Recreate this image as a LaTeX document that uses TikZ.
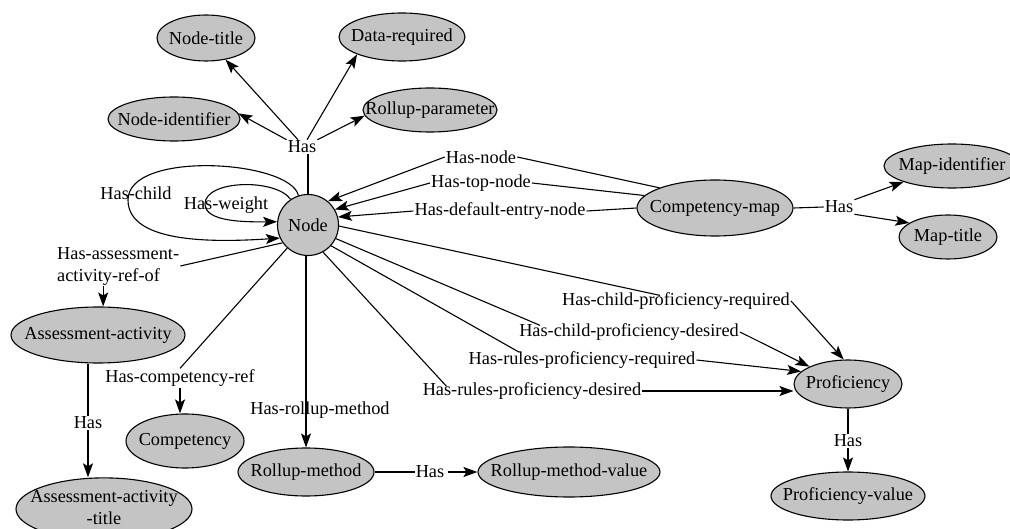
\documentclass[tikz,border=0pt]{standalone}
\usepackage{fontspec}
\setmainfont{Liberation Serif}
\usetikzlibrary{shapes.geometric,arrows.meta}
\definecolor{entfill}{RGB}{196,196,196}
\begin{document}
\begin{tikzpicture}[x=1pt,y=-1pt,
  font=\fontsize{18.3}{21}\selectfont,
  ent/.style={ellipse,draw,line width=1.1pt,fill=entfill,inner sep=0pt},
  lbl/.style={inner sep=1pt},
  link/.style={line width=1.1pt},
  arr/.style={link,-{Stealth[length=14pt,width=10pt,inset=3pt]}},
]
\useasboundingbox (0,0) rectangle (1010,529);

% ---------- entities ----------
\node[ent,circle,minimum size=61pt] (N) at (308,225) {\makebox[0pt]{Node}};
\node[ent,minimum width=98pt,minimum height=46pt]  (ntitle) at (206,38)  {\makebox[0pt]{Node-title}};
\node[ent,minimum width=126pt,minimum height=48pt] (dreq)   at (402,37)  {\makebox[0pt]{Data-required}};
\node[ent,minimum width=132pt,minimum height=44pt] (nid)    at (174,119) {\makebox[0pt]{Node-identifier}};
\node[ent,minimum width=134pt,minimum height=44pt] (rpar)   at (430,110) {\makebox[0pt]{Rollup-parameter}};
\node[ent,minimum width=156pt,minimum height=56pt] (cmap)   at (715,208) {\makebox[0pt]{Competency-map}};
\node[ent,minimum width=136pt,minimum height=44pt] (mid)    at (952,166) {\makebox[0pt]{Map-identifier}};
\node[ent,minimum width=98pt,minimum height=44pt]  (mtitle) at (948,237) {\makebox[0pt]{Map-title}};
\node[ent,minimum width=174pt,minimum height=56pt] (aa)     at (98,335)  {\makebox[0pt]{Assessment-activity}};
\node[ent,minimum width=176pt,minimum height=62pt] (aat)    at (104,509)
  {\makebox[0pt]{\fontsize{18.3}{22}\selectfont\begin{tabular}{@{}c@{}}Assessment-activity\\-title\end{tabular}}};
\node[ent,minimum width=118pt,minimum height=54pt] (comp)   at (185,441) {\makebox[0pt]{Competency}};
\node[ent,minimum width=136pt,minimum height=48pt] (rm)     at (306,472) {\makebox[0pt]{Rollup-method}};
\node[ent,minimum width=182pt,minimum height=50pt] (rmv)    at (569,472) {\makebox[0pt]{Rollup-method-value}};
\node[ent,minimum width=108pt,minimum height=48pt] (prof)   at (848,384) {\makebox[0pt]{Proficiency}};
\node[ent,minimum width=154pt,minimum height=48pt] (pv)     at (848,496) {\makebox[0pt]{Proficiency-value}};

% ---------- relation labels ----------
\node[lbl] (hasN)    at (302,147) {Has};
\node[lbl] (lhn)     at (481,157) {Has-node};
\node[lbl] (lhtn)    at (481,183) {Has-top-node};
\node[lbl] (lhden)   at (500,211) {Has-default-entry-node};
\node[lbl] (lchild)  at (136,193) {Has-child};
\node[lbl] (lweight) at (226,205) {Has-weight};
\node[lbl,align=left,anchor=west,font=\fontsize{18.3}{22}\selectfont] (laa) at (56,266)
  {Has-assessment-\\activity-ref-of};
\node[lbl] (lcr)     at (180,378) {Has-competency-ref};
\node[lbl] (lrm)     at (320,410) {Has-rollup-method};
\node[lbl] (hasRM)   at (430,472) {Has};
\node[lbl] (hasAA)   at (88,423)  {Has};
\node[lbl] (hasCM)   at (839,207) {Has};
\node[lbl] (hasP)    at (848,441) {Has};
\node[lbl] (l1)      at (676,301) {Has-child-proficiency-required};
\node[lbl] (l2)      at (629,332) {Has-child-proficiency-desired};
\node[lbl] (l3)      at (582,360) {Has-rules-proficiency-required};
\node[lbl] (l4)      at (532,391) {Has-rules-proficiency-desired};

% ---------- Node attributes ----------
\draw[link] (N.north) -- (N.north |- hasN.south);
\draw[arr] (hasN.north west) -- (nid.5);
\draw[arr] ([xshift=-4pt]hasN.north) -- (ntitle);
\draw[arr] ([xshift=5pt]hasN.north) -- (dreq.south west);
\draw[arr] (hasN.north east) -- (rpar.185);

% ---------- self loops ----------
\draw[arr] (N.108) .. controls (290,160) and (128,150) .. (128,200)
  .. controls (128,245) and (220,242) .. (N.205);
\draw[arr] (N.124) .. controls (275,178) and (205,180) .. (205,204)
  .. controls (205,222) and (245,222) .. (N.174);

% ---------- competency map ----------
\draw[link] (cmap.north west) -- (lhn.east);
\draw[arr] (lhn.west) -- (N.50);
\draw[link] (cmap.170) -- (lhtn.east);
\draw[arr] (lhtn.west) -- (N.30);
\draw[link] (cmap.west) -- (lhden.east);
\draw[arr] (lhden.west) -- (N.15);
\draw[link] (cmap.east) -- (hasCM.west);
\draw[arr] (hasCM.north east) -- (mid.south west);
\draw[arr] (hasCM.south east) -- (mtitle.160);

% ---------- assessment activity ----------
\draw[link] (N.215) -- (laa.east);
\draw[arr] ([xshift=-15pt]laa.south) -- ([xshift=-15pt]laa.south |- aa.north);
\draw[link] (aa.south -| hasAA) -- (hasAA.north);
\draw[arr] (hasAA.south) -- (hasAA |- aat.north);

% ---------- competency ----------
\draw[link] (N.228) -- (lcr.north);
\draw[arr] (lcr.south) -- (lcr.south |- comp.north);

% ---------- rollup method ----------
\draw[arr] (N.south -| rm.north) -- (rm.north);
\draw[link] (rm.east) -- (hasRM.west);
\draw[arr] ([xshift=3pt]hasRM.east) -- (rmv.west);

% ---------- proficiency ----------
\draw[link] (N.-2)  -- ([xshift=-16pt,yshift=-4pt]l1.north);
\draw[link] (N.-26) -- ([xshift=22pt,yshift=-3pt]l2.north west);
\draw[link] (N.-42) -- ([xshift=52pt,yshift=-2pt]l3.north west);
\draw[link] (N.-61) -- ([xshift=25pt,yshift=-5pt]l4.north west);
\draw[arr] (l1.east) -- (prof.100);
\draw[arr] (l2.east) -- (prof.north west);
\draw[arr] (l3.east) -- (prof.165);
\draw[arr] (l4.east) -- (l4.east -| prof.west);
\draw[link] (prof.south) -- (hasP.north);
\draw[arr] (hasP.south) -- (pv.north);
\end{tikzpicture}
\end{document}
